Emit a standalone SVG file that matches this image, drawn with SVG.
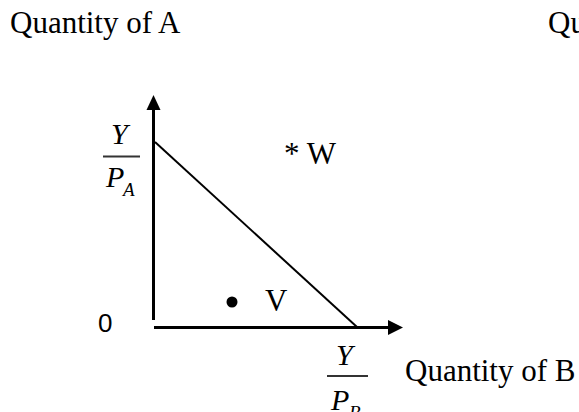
<svg xmlns="http://www.w3.org/2000/svg" width="579" height="412" viewBox="0 0 579 412">
<style>
.serif{font-family:"Liberation Serif","Times New Roman",serif;font-size:31px;fill:#000}
.ital{font-family:"Liberation Serif","Times New Roman",serif;font-style:italic;fill:#000}
.sans{font-family:"Liberation Sans",Arial,sans-serif;font-size:26px;fill:#000}
.axis{stroke:#000;stroke-width:3;fill:none}
.budget{stroke:#000;stroke-width:2;fill:none}
.frac{stroke:#333;stroke-width:1.8}
</style>
<rect width="579" height="412" fill="#fff"/>
<g id="connectors">
<line class="axis" x1="153.5" y1="108" x2="153.5" y2="320"/>
<polygon points="153.5,95 146.5,110 160.5,110" fill="#000"/>
<line class="axis" x1="154" y1="327.5" x2="390" y2="327.5"/>
<polygon points="403,327.5 388,320 388,335" fill="#000"/>
<line class="budget" x1="155" y1="142" x2="357" y2="327"/>
</g>
<g id="label-qa"><text class="serif" x="10" y="33">Quantity of A</text></g>
<g id="label-qu"><text class="serif" x="548" y="33">Qu</text></g>
<g id="label-ya">
<text class="ital" x="111" y="144" font-size="30">Y</text>
<line class="frac" x1="103" y1="156.5" x2="140" y2="156.5"/>
<text class="ital" x="106" y="187" font-size="30">P</text>
<text class="ital" x="123" y="196" font-size="19">A</text>
</g>
<g id="point-w"><text class="serif" x="284" y="164">* W</text></g>
<g id="point-v">
<circle cx="232" cy="302" r="5.5" fill="#000"/>
<text class="serif" x="265" y="311">V</text>
</g>
<g id="label-origin"><text class="sans" x="98" y="332">0</text></g>
<g id="label-yb">
<text class="ital" x="336" y="365" font-size="30">Y</text>
<line class="frac" x1="327" y1="376" x2="368" y2="376"/>
<text class="ital" x="331" y="410" font-size="30">P</text>
<text class="ital" x="349" y="419" font-size="19">B</text>
</g>
<g id="label-qb"><text class="serif" x="405" y="381">Quantity of B</text></g>
</svg>
